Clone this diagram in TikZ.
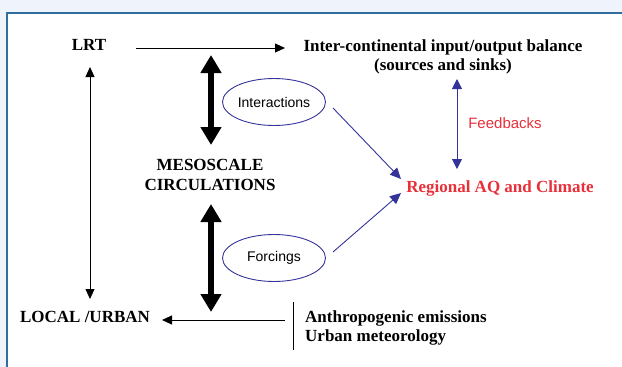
\documentclass[tikz,border=0pt]{standalone}
\usepackage{fontspec}
\setmainfont{Liberation Serif}
\setsansfont{Liberation Sans}
\usetikzlibrary{arrows.meta,shapes.geometric}
\definecolor{bgblue}{HTML}{EFF3FB}
\definecolor{frameblue}{HTML}{2F6E9E}
\definecolor{navy}{HTML}{333399}
\definecolor{aqred}{HTML}{E8303A}
\begin{document}
\begin{tikzpicture}[x=1pt,y=-1pt,
  lbl/.style={font=\fontsize{17}{19.5}\selectfont\bfseries, align=center, inner sep=0pt},
  oval/.style={draw=navy, line width=0.9pt, ellipse, minimum width=103pt, minimum height=47pt, inner sep=0pt, font=\sffamily\fontsize{14}{16}\selectfont},
  thinarrow/.style={line width=0.8pt, -{Triangle[length=10pt,width=9pt]}},
  thinboth/.style={line width=0.8pt, {Triangle[length=10pt,width=9pt]}-{Triangle[length=10pt,width=9pt]}},
  fatboth/.style={line width=6pt, {Triangle[length=18pt,width=20pt]}-{Triangle[length=18pt,width=20pt]}},
  navyline/.style={draw=navy, line width=0.9pt},
]
\useasboundingbox (0,0) rectangle (622,367);
\fill[bgblue] (0,0) rectangle (622,367);
\fill[white] (7,13) rectangle (622,367);
\draw[frameblue, line width=2pt] (7,368) -- (7,13) -- (623,13);

\node[lbl] (lrt) at (89,45) {LRT};
\node[lbl] (inter) at (443,57) {Inter-continental input/output balance\\(sources and sinks)};
\node[lbl] (meso) at (210,175) {MESOSCALE\\CIRCULATIONS};
\node[lbl, text=aqred] (reg) at (500,188) {Regional AQ and Climate};
\node[lbl] (local) at (85,317) {LOCAL /URBAN};
\node[lbl, align=left, anchor=west] (anth) at (305,328) {Anthropogenic emissions\\Urban meteorology};

\node[oval] (int) at (274,102) {Interactions};
\node[oval] (forc) at (274,258) {Forcings};
\node[font=\sffamily\fontsize{15}{17}\selectfont, text=aqred, inner sep=0pt] (fb) at (505,123) {Feedbacks};

\coordinate (a1) at (136,48);
\coordinate (a2) at (285,48);
\draw[thinarrow] (a1) -- (a2);

\coordinate (l1) at (90,67);
\coordinate (l2) at (90,299);
\draw[thinboth] (l1) -- (l2);

\coordinate (t1) at (211,55);
\coordinate (t2) at (211,145);
\draw[fatboth] (t1) -- (t2);
\coordinate (b1) at (211,204);
\coordinate (b2) at (211,312);
\draw[fatboth] (b1) -- (b2);

\coordinate (f1) at (457,79);
\coordinate (f2) at (457,169);
\draw[navyline, {Triangle[length=10pt,width=10pt]}-{Triangle[length=10pt,width=10pt]}, navy] (f1) -- (f2);

\coordinate (i1) at (333,108);
\coordinate (i2) at (401,179);
\draw[navyline, -{Triangle[length=11pt,width=10pt]}, navy] (i1) -- (i2);
\coordinate (g1) at (333,252);
\coordinate (g2) at (401,193);
\draw[navyline, -{Triangle[length=11pt,width=10pt]}, navy] (g1) -- (g2);

\coordinate (u1) at (285,320);
\coordinate (u2) at (162,320);
\draw[thinarrow] (u1) -- (u2);

\coordinate (v1) at (293,302);
\coordinate (v2) at (293,350);
\draw[line width=0.8pt] (v1) -- (v2);
\end{tikzpicture}
\end{document}
